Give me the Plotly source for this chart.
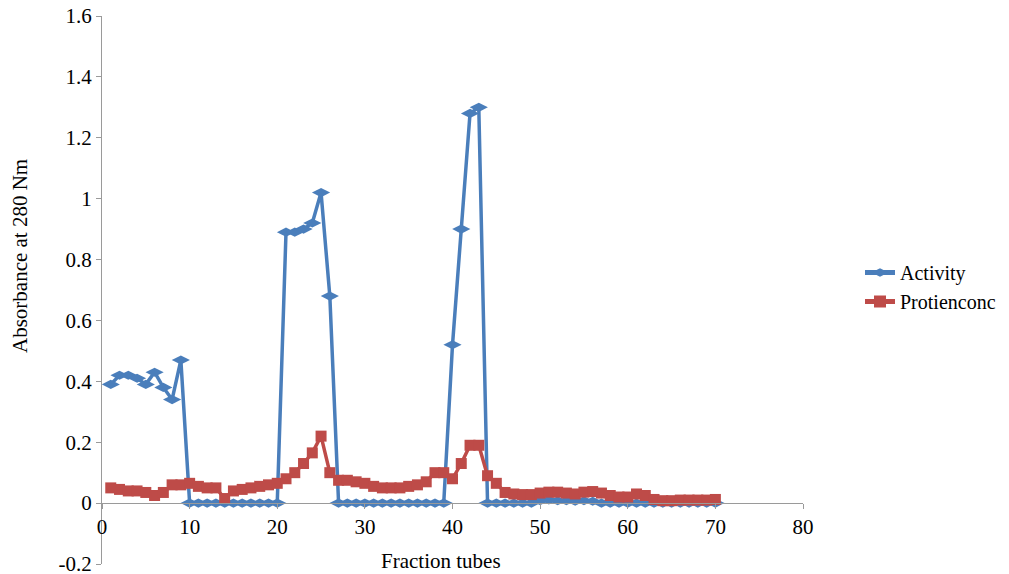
import plotly.graph_objects as go

fraction = list(range(1, 71))

activity = [0.39, 0.42, 0.42, 0.41, 0.39, 0.43, 0.38, 0.34, 0.47, 0.0,
            0.0, 0.0, 0.0, 0.0, 0.0, 0.0, 0.0, 0.0, 0.0, 0.0,
            0.89, 0.89, 0.90, 0.92, 1.02, 0.68, 0.0, 0.0, 0.0, 0.0,
            0.0, 0.0, 0.0, 0.0, 0.0, 0.0, 0.0, 0.0, 0.0, 0.52,
            0.90, 1.28, 1.30, 0.0, 0.0, 0.0, 0.0, 0.0, 0.0, 0.008,
            0.01, 0.008, 0.008, 0.006, 0.008, 0.006, 0.0, 0.0, 0.0, 0.0,
            0.0, 0.0, 0.0, 0.0, 0.0, 0.0, 0.0, 0.0, 0.0, 0.0]

protein = [0.05, 0.045, 0.04, 0.04, 0.035, 0.025, 0.035, 0.06, 0.06, 0.065,
           0.055, 0.05, 0.05, 0.015, 0.04, 0.045, 0.05, 0.055, 0.06, 0.065,
           0.08, 0.10, 0.13, 0.165, 0.22, 0.10, 0.075, 0.075, 0.07, 0.065,
           0.055, 0.05, 0.05, 0.05, 0.055, 0.06, 0.07, 0.10, 0.10, 0.08,
           0.13, 0.19, 0.19, 0.09, 0.065, 0.035, 0.03, 0.028, 0.028, 0.033,
           0.036, 0.036, 0.033, 0.03, 0.036, 0.038, 0.033, 0.025, 0.02, 0.02,
           0.03, 0.025, 0.012, 0.008, 0.008, 0.01, 0.01, 0.01, 0.01, 0.012]

y_ticks = [-0.2, 0, 0.2, 0.4, 0.6, 0.8, 1.0, 1.2, 1.4, 1.6]
y_labels = ["-0.2", "0", "0.2", "0.4", "0.6", "0.8", "1", "1.2", "1.4", "1.6"]
x_ticks = [0, 10, 20, 30, 40, 50, 60, 70, 80]

FONT = "Times New Roman, Liberation Serif, serif"
FS = 21
BLUE = "#4A7EBB"
RED = "#BE4B48"
AXIS = "#9A9A9A"

# page body has an 8px margin; work in page pixels and offset
OFF = 8
W, H = 1009 - OFF, 574 - OFF
L, R, T, B = 102 - OFF, 1009 - 803, 16 - OFF, 574 - 564
ph = H - T - B
pw = W - L - R


def px(xp):
    return (xp - OFF - L) / pw


def py(yp):
    return (H - B - (yp - OFF)) / ph


fig = go.Figure()
fig.add_trace(go.Scatter(
    x=fraction, y=activity, name="Activity", mode="lines+markers",
    line=dict(color=BLUE, width=3.5),
    marker=dict(symbol="diamond-wide", size=13, color=BLUE),
))
fig.add_trace(go.Scatter(
    x=fraction, y=protein, name="Protienconc", mode="lines+markers",
    line=dict(color=RED, width=3.5),
    marker=dict(symbol="square", size=11, color=RED),
))

zero_pos = (0 - (-0.2)) / (1.6 - (-0.2))
tf = dict(family=FONT, size=FS, color="black")
lf = dict(family=FONT, size=20, color="black")

fig.update_layout(
    width=W, height=H,
    margin=dict(l=L, r=R, t=T, b=B, autoexpand=False),
    plot_bgcolor="white", paper_bgcolor="white",
    font=tf,
    showlegend=True,
    legend=dict(x=px(860), y=py(253), xanchor="left", yanchor="top",
                font=lf, bgcolor="rgba(0,0,0,0)", tracegroupgap=0, itemsizing="constant"),
    xaxis=dict(range=[0, 80], tickvals=x_ticks, showgrid=False, zeroline=False,
               showline=True, linecolor=AXIS, linewidth=1.2,
               ticks="outside", ticklen=5, tickcolor=AXIS,
               anchor="free", position=zero_pos, automargin=False,
               ticklabeloverflow="allow", tickfont=tf),
    yaxis=dict(range=[-0.2, 1.6], tickvals=y_ticks, ticktext=y_labels,
               showgrid=False, zeroline=False, automargin=False,
               showline=True, linecolor=AXIS, linewidth=1.2,
               ticks="outside", ticklen=5, tickcolor=AXIS,
               ticklabeloverflow="allow", tickfont=tf),
    annotations=[
        dict(text="Fraction tubes", xref="paper", yref="paper",
             x=px(441), y=py(561), xanchor="center", yanchor="middle",
             showarrow=False, font=tf),
        dict(text="Absorbance at 280 Nm", xref="paper", yref="paper",
             x=px(20), y=py(256), xanchor="center", yanchor="middle",
             textangle=-90, showarrow=False, font=tf),
    ],
)

fig.write_html("out.html")
